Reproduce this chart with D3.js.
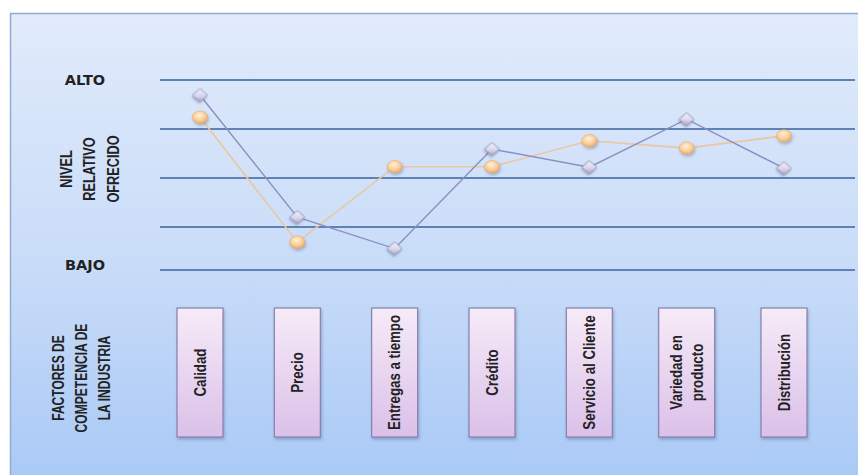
<!DOCTYPE html>
<html>
<head>
<meta charset="utf-8">
<script src="https://cdn.jsdelivr.net/npm/d3@7"></script>
<style>
  body { margin: 0; background: #ffffff; }
  svg { display: block; }
</style>
</head>
<body>
<svg id="chart" width="858" height="475"></svg>
<script>
// Competitive factors of the industry and the relative level offered on each
const categories = ["Calidad", "Precio", "Entregas a tiempo", "Crédito", "Servicio al Cliente", "Variedad en producto", "Distribución"];
const categoryLines = [["Calidad"], ["Precio"], ["Entregas a tiempo"], ["Crédito"], ["Servicio al Cliente"], ["Variedad en", "producto"], ["Distribución"]];

// Relative level offered (1 = low … 5 = high)
const seriesDiamond = [4.69, 2.20, 1.56, 3.59, 3.22, 4.20, 3.20];
const seriesCircle  = [4.24, 1.69, 3.23, 3.23, 3.76, 3.61, 3.86];

// Horizontal reference lines and the level names shown at the ends of the range
const gridLevels = [5, 4, 3, 2, 1.12];
const tickLevels = [5, 1.12];
const tickLabels = ["ALTO", "BAJO"];

const yTitleLines = ["NIVEL", "RELATIVO", "OFRECIDO"];
const xTitleLines = ["FACTORES DE", "COMPETENCIA DE", "LA INDUSTRIA"];

const svg = d3.select("#chart");
const defs = svg.append("defs");

// ---------- gradients & effects ----------
const bg = defs.append("linearGradient").attr("id", "bgGrad")
  .attr("x1", 0).attr("y1", 0).attr("x2", 0).attr("y2", 1);
bg.append("stop").attr("offset", "0%").attr("stop-color", "#e1ebfb");
bg.append("stop").attr("offset", "55%").attr("stop-color", "#c7dbf8");
bg.append("stop").attr("offset", "100%").attr("stop-color", "#a7c8f6");

const boxGrad = defs.append("linearGradient").attr("id", "boxGrad")
  .attr("x1", 0).attr("y1", 0).attr("x2", 0).attr("y2", 1);
boxGrad.append("stop").attr("offset", "0%").attr("stop-color", "#f6ebf8");
boxGrad.append("stop").attr("offset", "100%").attr("stop-color", "#dbc0e9");

const diaGrad = defs.append("linearGradient").attr("id", "diaGrad")
  .attr("x1", 0).attr("y1", 0).attr("x2", 1).attr("y2", 1);
diaGrad.append("stop").attr("offset", "0%").attr("stop-color", "#f4f2fb");
diaGrad.append("stop").attr("offset", "55%").attr("stop-color", "#d9d6ec");
diaGrad.append("stop").attr("offset", "100%").attr("stop-color", "#a9a6c8");

const cirGrad = defs.append("radialGradient").attr("id", "cirGrad")
  .attr("cx", "45%").attr("cy", "35%").attr("r", "70%");
cirGrad.append("stop").attr("offset", "0%").attr("stop-color", "#fff1dc");
cirGrad.append("stop").attr("offset", "55%").attr("stop-color", "#fbcf98");
cirGrad.append("stop").attr("offset", "100%").attr("stop-color", "#eaa45e");

const shadow = defs.append("filter").attr("id", "shadow")
  .attr("x", "-40%").attr("y", "-40%").attr("width", "180%").attr("height", "180%");
shadow.append("feDropShadow").attr("dx", 1).attr("dy", 2)
  .attr("stdDeviation", 1.4).attr("flood-color", "#3a4a70").attr("flood-opacity", 0.35);

// ---------- panel ----------
svg.append("rect")
  .attr("x", 10.5).attr("y", 13.5)
  .attr("width", 870).attr("height", 480)
  .attr("fill", "url(#bgGrad)")
  .attr("stroke", "#93abd0").attr("stroke-width", 1.5);

// ---------- scales ----------
const x = d3.scalePoint().domain(categories).range([200, 784]);
const y = d3.scaleLinear().domain([1, 5]).range([276, 80]);

// ---------- grid lines ----------
svg.append("g").selectAll("line").data(gridLevels).join("line")
  .attr("x1", 160).attr("x2", 855)
  .attr("y1", d => y(d)).attr("y2", d => y(d))
  .attr("stroke", "#5f82b4").attr("stroke-width", 2);

// ---------- level labels ----------
svg.append("g").selectAll("text").data(tickLevels).join("text")
  .attr("x", 85)
  .attr("y", (d, i) => y(d) + (i === 0 ? 0 : -5))
  .attr("dy", "0.36em")
  .attr("text-anchor", "middle")
  .attr("font-family", "DejaVu Sans, sans-serif")
  .attr("font-weight", "bold")
  .attr("font-size", 14.5)
  .attr("fill", "#222")
  .text((d, i) => tickLabels[i]);

// ---------- rotated titles ----------
function rotatedBlock(lines, cx, cy, spacing, size, squeeze, family) {
  const g = svg.append("g")
    .attr("transform", `translate(${cx},${cy}) rotate(-90) scale(${squeeze},1)`);
  g.selectAll("text").data(lines).join("text")
    .attr("x", 0)
    .attr("y", (d, i) => (i - (lines.length - 1) / 2) * spacing)
    .attr("dy", "0.36em")
    .attr("text-anchor", "middle")
    .attr("font-family", family)
    .attr("font-weight", "bold")
    .attr("font-size", size)
    .attr("fill", "#222")
    .text(d => d);
  return g;
}

rotatedBlock(yTitleLines, 89, 169, 23.5, 17, 0.75, "Liberation Sans, Arial, sans-serif");
rotatedBlock(xTitleLines, 81, 378, 23, 17, 0.71, "Liberation Sans, Arial, sans-serif");

// ---------- series lines ----------
const lineFor = values => d3.line()
  .x((d, i) => x(categories[i]))
  .y(d => y(d))(values);

svg.append("path").attr("d", lineFor(seriesCircle))
  .attr("fill", "none").attr("stroke", "#e9c7a0").attr("stroke-width", 1.6);
svg.append("path").attr("d", lineFor(seriesDiamond))
  .attr("fill", "none").attr("stroke", "#8a8fc2").attr("stroke-width", 1.4);

// ---------- markers ----------
svg.append("g").selectAll("ellipse").data(seriesCircle).join("ellipse")
  .attr("cx", (d, i) => x(categories[i]))
  .attr("cy", d => y(d))
  .attr("rx", 7.5).attr("ry", 6.2)
  .attr("fill", "url(#cirGrad)")
  .attr("stroke", "#e6aa6c").attr("stroke-width", 0.6)
  .attr("filter", "url(#shadow)");

const squareSym = d3.symbol().type(d3.symbolSquare).size(112);
svg.append("g").selectAll("path").data(seriesDiamond).join("path")
  .attr("transform", (d, i) => `translate(${x(categories[i])},${y(d)}) scale(1,0.88) rotate(45)`)
  .attr("d", squareSym)
  .attr("fill", "url(#diaGrad)")
  .attr("stroke", "#8f8bb4").attr("stroke-width", 0.7)
  .attr("filter", "url(#shadow)");

// ---------- category boxes ----------
const boxTop = 308, boxBottom = 437;
const boxes = svg.append("g").selectAll("g").data(categories).join("g")
  .attr("transform", d => `translate(${x(d)},0)`);

boxes.append("rect")
  .attr("x", (d, i) => -(36 + 10 * categoryLines[i].length) / 2)
  .attr("width", (d, i) => 36 + 10 * categoryLines[i].length)
  .attr("y", boxTop).attr("height", boxBottom - boxTop)
  .attr("fill", "url(#boxGrad)")
  .attr("stroke", "#8781ad").attr("stroke-width", 1.2)
  .attr("filter", "url(#shadow)");

boxes.each(function(d, i) {
  const lines = categoryLines[i];
  d3.select(this).append("g")
    .attr("transform", `translate(0,${(boxTop + boxBottom) / 2}) rotate(-90) scale(0.83,1)`)
    .selectAll("text").data(lines).join("text")
    .attr("x", 0)
    .attr("y", (t, k) => (k - (lines.length - 1) / 2) * 21)
    .attr("dy", "0.36em")
    .attr("text-anchor", "middle")
    .attr("font-family", "Liberation Sans, Arial, sans-serif")
    .attr("font-weight", "bold")
    .attr("font-size", 16)
    .attr("fill", "#222")
    .text(t => t);
});
</script>
</body>
</html>
